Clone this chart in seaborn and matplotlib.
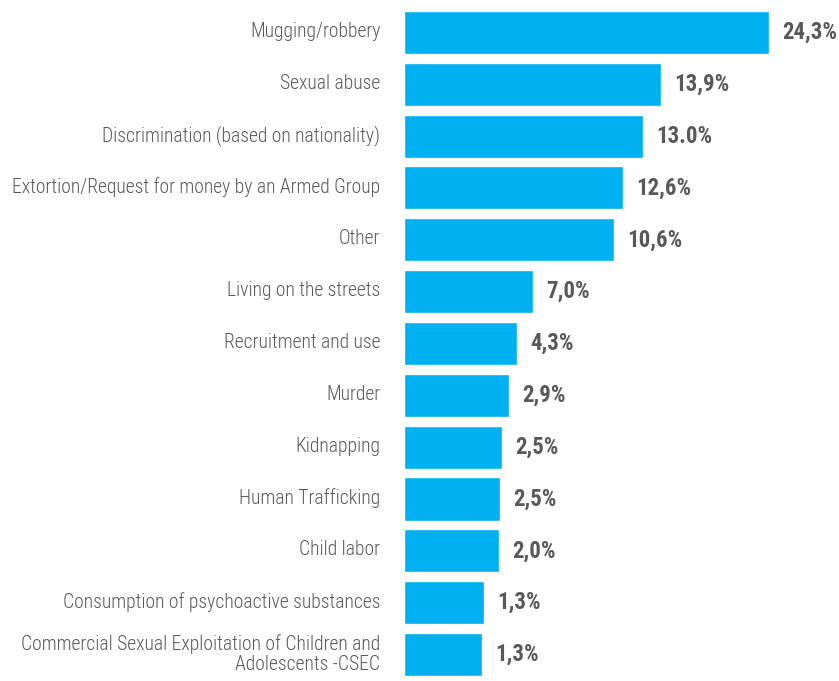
import matplotlib
matplotlib.use("Agg")
import matplotlib.pyplot as plt
from matplotlib import font_manager
import matplotlib.transforms as mtransforms
import seaborn as sns
import pandas as pd

categories = [
    "Mugging/robbery",
    "Sexual abuse",
    "Discrimination (based on nationality)",
    "Extortion/Request for money by an Armed Group",
    "Other",
    "Living on the streets",
    "Recruitment and use",
    "Murder",
    "Kidnapping",
    "Human Trafficking",
    "Child labor",
    "Consumption of psychoactive substances",
    "Commercial Sexual Exploitation of Children and\nAdolescents -CSEC",
]
# bar lengths as drawn in the reference (not proportional to printed labels)
bar_lengths = [24.3, 17.1, 15.9, 14.6, 14.0, 8.6, 7.5, 7.0, 6.5, 6.4, 6.3, 5.3, 5.2]
value_labels = ["24,3%", "13,9%", "13.0%", "12,6%", "10,6%", "7,0%", "4,3%",
                "2,9%", "2,5%", "2,5%", "2,0%", "1,3%", "1,3%"]

df = pd.DataFrame({"category": categories, "length": bar_lengths})

sns.set_theme(style="white")
names = {f.name for f in font_manager.fontManager.ttflist}
family = "Roboto"
for cand in ["Roboto Condensed", "Liberation Sans Narrow", "Arial Narrow", "Roboto"]:
    if cand in names:
        family = cand
        break
plt.rcParams["font.family"] = [family, "DejaVu Sans"]

fig = plt.figure(figsize=(8.39, 6.81), dpi=100)
ax = fig.add_axes([404 / 839, 0.0008, 435 / 839, 674 / 681])

sns.barplot(data=df, y="category", x="length", color="#00B0F0", saturation=1,
            width=0.83, orient="h", ax=ax)

ax.set_xlim(0, 24.3 * 435 / 365)
ax.set_ylim(len(categories) - 0.5, -0.5)
ax.set_xlabel("")
ax.set_ylabel("")
ax.set_xticks([])
for s in ax.spines.values():
    s.set_visible(False)

gray = "#595959"
ax.tick_params(axis="y", length=0, pad=17, labelsize=14.1, labelcolor=gray)
shift = mtransforms.ScaledTranslation(0, 3 / 100, fig.dpi_scale_trans)
for lab in ax.get_yticklabels():
    lab.set_horizontalalignment("right")
    lab.set_linespacing(1.1)
    lab.set_fontweight("light")
    lab.set_transform(lab.get_transform() + shift)

for i, (v, t) in enumerate(zip(bar_lengths, value_labels)):
    ax.annotate(t, xy=(v, i), xytext=(9.5, 0), textcoords="offset points",
                ha="left", va="center", fontsize=16.5, fontweight="bold", color=gray)

fig.savefig("out.png", dpi=100)
